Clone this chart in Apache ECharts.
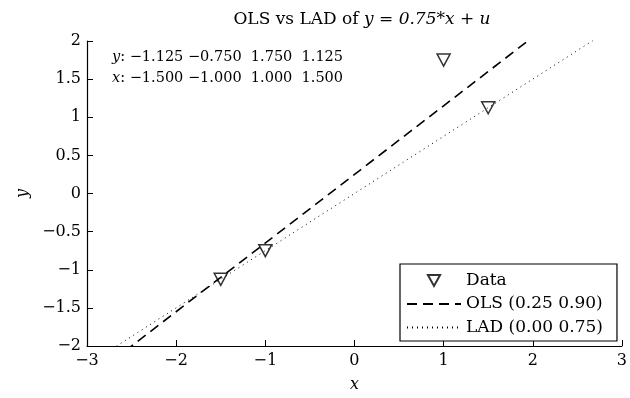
<!DOCTYPE html>
<html>
<head>
<meta charset="utf-8">
<script src="https://cdn.jsdelivr.net/npm/echarts@6/dist/echarts.min.js"></script>
<style>
  html, body { margin: 0; padding: 0; background: #fff; }
  #chart { width: 630px; height: 398px; }
</style>
</head>
<body>
<div id="chart"></div>
<script>
// data points
const xData = [-1.5, -1.0, 1.0, 1.5];
const yData = [-1.125, -0.75, 1.75, 1.125];
// fitted lines: [intercept, slope]
const olsCoef = [0.25, 0.90];
const ladCoef = [0.0, 0.75];
const xRange = [-3, 3];

const FONT = "DejaVu Serif";
const minus = (v) => String(v).replace("-", "\u2212");
// positive numbers get a leading space so the columns line up
const fmt3 = (v) => (v < 0 ? "\u2212" : " ") + Math.abs(v).toFixed(3);

const lineData = (c) => xRange.map((x) => [x, c[0] + c[1] * x]);
const tri = "path://M0,0 L10,0 L5,9 Z";
const italic = { i: { fontFamily: FONT, fontStyle: "italic", fontSize: 14.5 } };

const chart = echarts.init(document.getElementById("chart"));
chart.setOption({
  animation: false,
  textStyle: { fontFamily: FONT, color: "#000" },
  title: {
    text: "OLS vs LAD of {i|y} = {i|0.75*x} + {i|u}",
    left: 357,
    textAlign: "center",
    top: 6,
    textStyle: {
      fontFamily: FONT,
      fontSize: 17,
      fontWeight: "normal",
      color: "#000",
      rich: { i: { fontFamily: FONT, fontStyle: "italic", fontSize: 17 } },
    },
  },
  grid: { left: 87, right: 3, top: 41, bottom: 47 },
  xAxis: {
    type: "value",
    min: -3,
    max: 3,
    interval: 1,
    name: "x",
    nameLocation: "middle",
    nameGap: 31,
    nameTextStyle: { fontStyle: "italic", fontSize: 16, fontFamily: FONT },
    axisLine: { onZero: false, lineStyle: { color: "#000", width: 1.2 } },
    axisTick: { inside: true, length: 6, lineStyle: { color: "#000" } },
    axisLabel: { formatter: minus, fontSize: 16, color: "#000", margin: 7 },
    splitLine: { show: false },
  },
  yAxis: {
    type: "value",
    min: -2,
    max: 2,
    interval: 0.5,
    name: "y",
    nameLocation: "middle",
    nameGap: 52,
    nameTextStyle: { fontStyle: "italic", fontSize: 16, fontFamily: FONT },
    axisLine: { onZero: false, lineStyle: { color: "#000", width: 1.2 } },
    axisTick: { inside: true, length: 6, lineStyle: { color: "#000" } },
    axisLabel: { formatter: minus, fontSize: 16, color: "#000", margin: 6 },
    splitLine: { show: false },
  },
  legend: {
    orient: "vertical",
    left: 400,
    top: 264,
    backgroundColor: "#fff",
    borderColor: "#000",
    borderWidth: 1.2,
    borderRadius: 0,
    padding: [8, 14, 5, 6],
    itemGap: 6.5,
    itemWidth: 54,
    itemHeight: 11,
    textStyle: { fontFamily: FONT, fontSize: 17, lineHeight: 17, color: "#000" },
    data: [
      { name: "Data", icon: tri },
      { name: "OLS (0.25 0.90)" },
      { name: "LAD (0.00 0.75)" },
    ],
  },
  graphic: [
    {
      type: "text",
      left: 112,
      top: 50,
      style: {
        text: "{i|y}: " + yData.map(fmt3).join(" "),
        font: "14.5px " + FONT,
        fill: "#000",
        rich: italic,
      },
    },
    {
      type: "text",
      left: 112,
      top: 71,
      style: {
        text: "{i|x}: " + xData.map(fmt3).join(" "),
        font: "14.5px " + FONT,
        fill: "#000",
        rich: italic,
      },
    },
  ],
  series: [
    {
      name: "Data",
      type: "scatter",
      data: xData.map((x, i) => [x, yData[i]]),
      symbol: tri,
      symbolSize: [13, 12],
      itemStyle: { color: "#fff", borderColor: "#000", borderWidth: 1.5 },
    },
    {
      name: "OLS (0.25 0.90)",
      type: "line",
      data: lineData(olsCoef),
      showSymbol: false,
      symbol: "none",
      clip: true,
      itemStyle: { color: "rgba(0,0,0,0)", borderWidth: 0 },
      lineStyle: { color: "#000", width: 1.6, type: [10, 6] },
    },
    {
      name: "LAD (0.00 0.75)",
      type: "line",
      data: lineData(ladCoef),
      showSymbol: false,
      symbol: "none",
      clip: true,
      itemStyle: { color: "rgba(0,0,0,0)", borderWidth: 0 },
      lineStyle: { color: "#000", width: 1, type: [1, 4] },
    },
  ],
});
</script>
</body>
</html>
